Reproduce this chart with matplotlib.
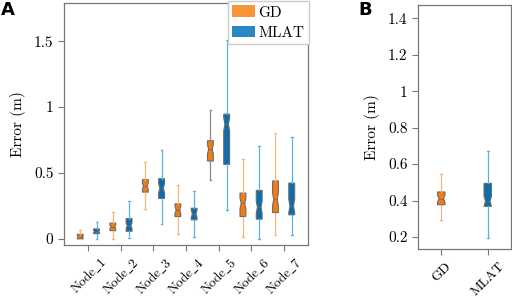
import matplotlib
matplotlib.use("Agg")
import matplotlib.pyplot as plt
from matplotlib.patches import Patch
from matplotlib.path import Path
import numpy as np

plt.rcParams['font.family'] = ['cmr10', 'DejaVu Serif']
plt.rcParams['axes.formatter.use_mathtext'] = True
plt.rcParams['mathtext.fontset'] = 'cm'

nodes = ["Node_1", "Node_2", "Node_3", "Node_4", "Node_5", "Node_6", "Node_7"]
# GD stats per node
gd_lo = [0.0, 0.0, 0.225, 0.038, 0.447, 0.015, 0.03]
gd_q1 = [0.0, 0.063, 0.355, 0.17, 0.591, 0.17, 0.2]
gd_med = [0.015, 0.09, 0.40, 0.22, 0.68, 0.27, 0.30]
gd_q3 = [0.035, 0.12, 0.45, 0.266, 0.745, 0.348, 0.44]
gd_hi = [0.07, 0.205, 0.585, 0.41, 0.975, 0.607, 0.805]
gd_ci = [0.008, 0.015, 0.025, 0.03, 0.035, 0.04, 0.05]
# MLAT stats per node
ml_lo = [0.0, 0.005, 0.114, 0.013, 0.218, 0.003, 0.028]
ml_q1 = [0.04, 0.058, 0.307, 0.145, 0.566, 0.15, 0.183]
ml_med = [0.055, 0.10, 0.385, 0.19, 0.87, 0.24, 0.25]
ml_q3 = [0.076, 0.155, 0.457, 0.233, 0.947, 0.368, 0.424]
ml_hi = [0.125, 0.29, 0.678, 0.363, 1.507, 0.703, 0.777]
ml_ci = [0.008, 0.02, 0.035, 0.03, 0.05, 0.045, 0.05]

# overall
overall_labels = ["GD", "MLAT"]
ov_lo = [0.291, 0.196]
ov_q1 = [0.377, 0.368]
ov_med = [0.41, 0.395]
ov_q3 = [0.447, 0.494]
ov_hi = [0.545, 0.673]
ov_ci = [0.02, 0.03]

ORANGE = "#F57B0F"
BLUE = "#0B6DAE"
ORANGE_L = "#F8B578"
BLUE_L = "#5DB3E0"
EDGE = "#6b6b6b"


def stats(lo, q1, med, q3, hi, ci):
    out = []
    for a, b, c, d, e, n in zip(lo, q1, med, q3, hi, ci):
        out.append(dict(whislo=a, q1=b, med=c, q3=d, whishi=e,
                        cilo=max(c - n, b), cihi=min(c + n, d), fliers=[]))
    return out


def draw(ax, st, positions, fill, wcols, width):
    bp = ax.bxp(st, positions=positions, widths=width, patch_artist=True,
                shownotches=True, showfliers=False, manage_ticks=False,
                boxprops=dict(facecolor=fill, edgecolor=EDGE, linewidth=0.8),
                medianprops=dict(color=EDGE, linewidth=0.6),
                whiskerprops=dict(linewidth=0.9),
                capprops=dict(linewidth=0.9),
                capwidths=width * 0.3)
    for i, (patch, pos) in enumerate(zip(bp['boxes'], positions)):
        v = patch.get_path().vertices.copy()
        v[3, 0] = pos + width * 0.3
        v[8, 0] = pos - width * 0.3
        patch.set_path(Path(v, patch.get_path().codes))
        bp['medians'][i].set_xdata([pos - width * 0.3, pos + width * 0.3])
    for i in range(len(positions)):
        c = wcols[i]
        for ln in bp['whiskers'][2 * i:2 * i + 2] + bp['caps'][2 * i:2 * i + 2]:
            ln.set_color(c)
    return bp


fig = plt.figure(figsize=(5.12, 2.98), dpi=100)
ax1 = fig.add_axes([64/512, 1 - 245/298, 244/512, 242/298])
ax2 = fig.add_axes([418/512, 1 - 249/298, 93/512, 244/298])

x = np.arange(1, len(nodes) + 1)
gd_wc = [ORANGE_L] * 4 + ["#8a8a8a"] + [ORANGE_L] * 2
ml_wc = [BLUE_L] * 7
draw(ax1, stats(gd_lo, gd_q1, gd_med, gd_q3, gd_hi, gd_ci), x - 0.25, ORANGE, gd_wc, 0.18)
draw(ax1, stats(ml_lo, ml_q1, ml_med, ml_q3, ml_hi, ml_ci), x + 0.25, BLUE, ml_wc, 0.18)
ax1.set_xlim(0.25, 7.75)
ax1.set_ylim(-0.046, 1.79)
ax1.set_xticks(x)
ax1.set_xticklabels([r"$\mathrm{" + n.replace("_", r"\_") + "}$" for n in nodes],
                    rotation=45, ha="center", fontsize=9.5)
ax1.tick_params(axis="x", pad=3)
ax1.set_yticks([0, 0.5, 1, 1.5])
ax1.set_yticklabels(["0", "0.5", "1", "1.5"])
ax1.set_ylabel("Error (m)", fontsize=11, labelpad=6)
ax1.legend(handles=[Patch(facecolor="#F7953A", edgecolor="none", label="GD"),
                    Patch(facecolor="#2A86C5", edgecolor="none", label="MLAT")],
           loc="upper right", bbox_to_anchor=(1.01, 1.015), fontsize=11,
           frameon=True, fancybox=False, edgecolor="#cccccc", framealpha=1,
           handlelength=1.5, handleheight=0.8, handletextpad=0.2,
           borderpad=0.3, labelspacing=0.4, borderaxespad=0.1)

st2 = stats(ov_lo, ov_q1, ov_med, ov_q3, ov_hi, ov_ci)
draw(ax2, [st2[0]], [1], ORANGE, [ORANGE_L], 0.16)
draw(ax2, [st2[1]], [2], BLUE, [BLUE_L], 0.16)
ax2.set_xlim(0.5, 2.5)
ax2.set_ylim(0.134, 1.473)
ax2.set_xticks([1, 2])
ax2.set_xticklabels(overall_labels, rotation=45, ha="center", fontsize=10)
ax2.tick_params(axis="x", pad=4)
ax2.set_yticks([0.2, 0.4, 0.6, 0.8, 1.0, 1.2, 1.4])
ax2.set_yticklabels(["0.2", "0.4", "0.6", "0.8", "1", "1.2", "1.4"])
ax2.set_ylabel("Error (m)", fontsize=11, labelpad=6)

for ax in (ax1, ax2):
    for s in ax.spines.values():
        s.set_color("#777777")
        s.set_linewidth(0.9)
    ax.tick_params(axis="both", colors="#777777", labelcolor="black",
                   direction="out", length=4, width=0.8)
    ax.tick_params(axis="y", labelsize=11)

fig.text(1/512, 1 - 15/298, "A", fontsize=13, fontweight="bold", family="DejaVu Sans")
fig.text(358/512, 1 - 15/298, "B", fontsize=13, fontweight="bold", family="DejaVu Sans")

fig.savefig("out.png", dpi=100)
